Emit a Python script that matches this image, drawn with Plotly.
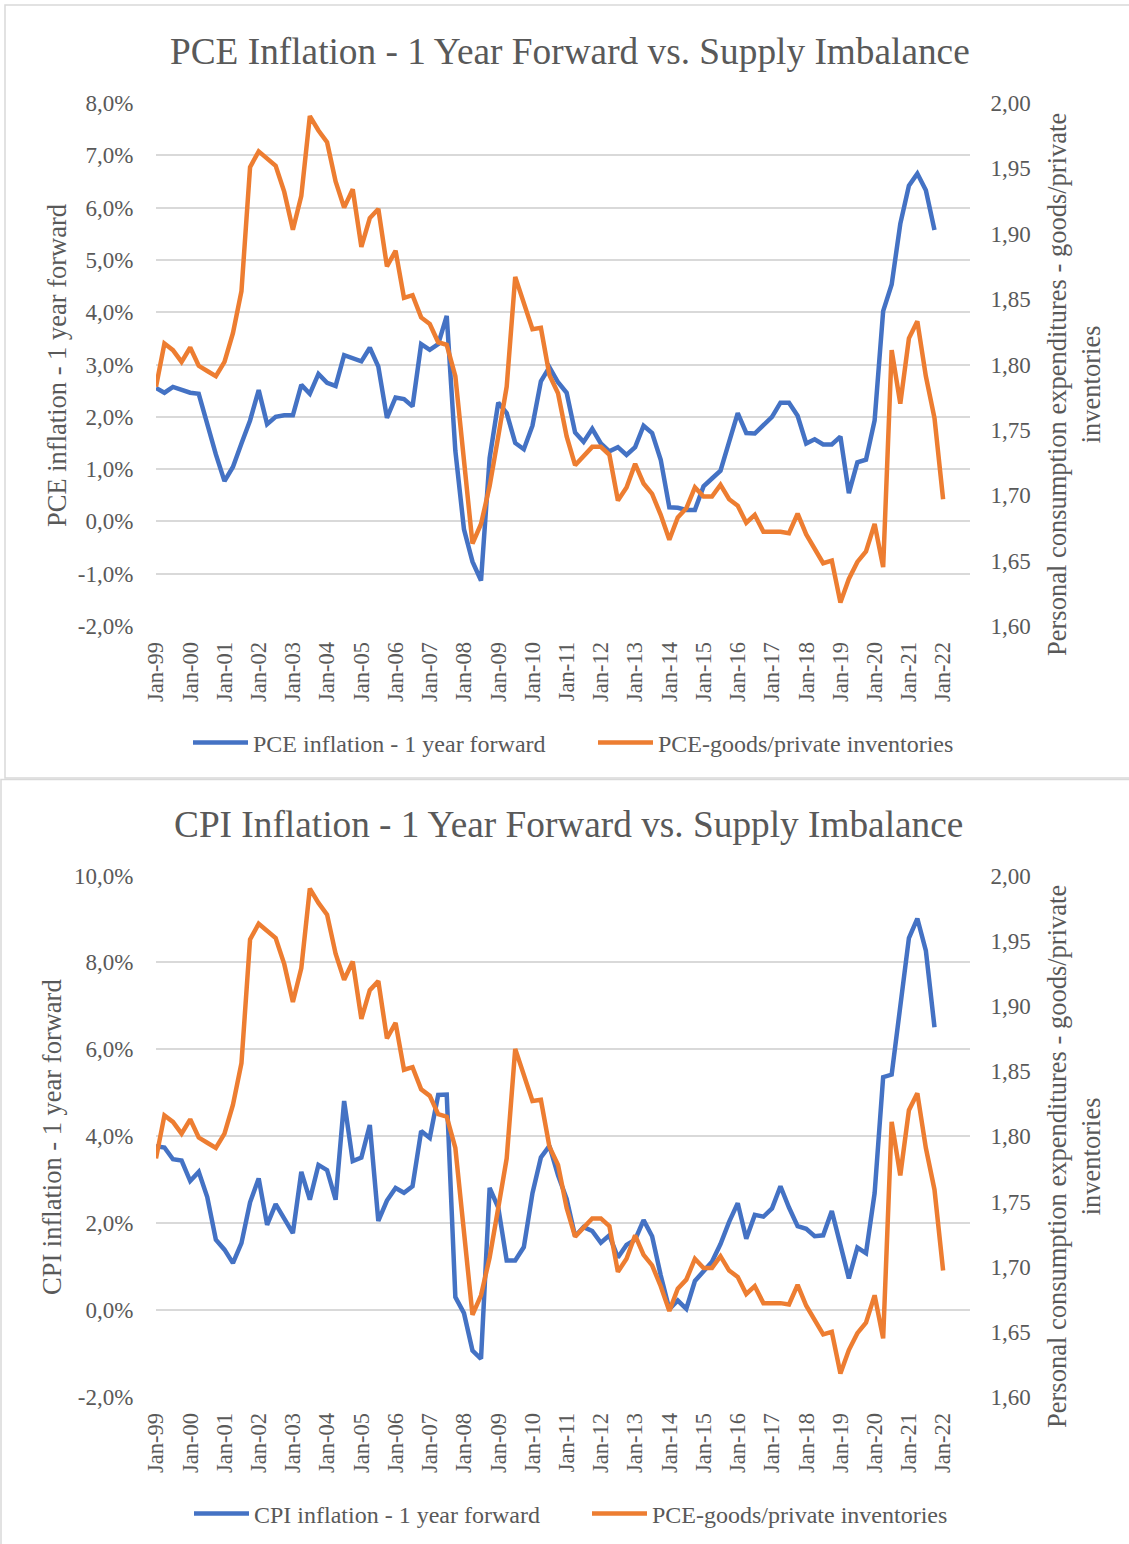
import pandas as pd
import plotly.graph_objects as go

# ---------------- data (quarterly, Jan-99 ... ) ----------------
quarters = pd.date_range("1999-01-01", periods=93, freq="QS")

pce_goods_inventories = [
    1.783, 1.816, 1.811, 1.802, 1.813, 1.799, 1.795, 1.791, 1.802, 1.824,
    1.856, 1.951, 1.963, 1.958, 1.952, 1.932, 1.903, 1.929, 1.990, 1.979,
    1.970, 1.940, 1.920, 1.934, 1.890, 1.912, 1.919, 1.875, 1.887, 1.851,
    1.853, 1.836, 1.831, 1.817, 1.815, 1.791, 1.723, 1.663, 1.678, 1.707,
    1.745, 1.783, 1.867, 1.846, 1.827, 1.828, 1.792, 1.778, 1.745, 1.723,
    1.730, 1.737, 1.737, 1.731, 1.696, 1.706, 1.724, 1.709, 1.701, 1.685,
    1.666, 1.683, 1.690, 1.706, 1.699, 1.699, 1.708, 1.697, 1.692, 1.679,
    1.685, 1.672, 1.672, 1.672, 1.671, 1.686, 1.670, 1.659, 1.648, 1.650,
    1.618, 1.636, 1.649, 1.657, 1.678, 1.645, 1.811, 1.770, 1.820, 1.833,
    1.791, 1.759, 1.697,
]

pce_inflation_fwd = [
    2.55, 2.46, 2.57, 2.52, 2.46, 2.44, 1.83, 1.28, 0.77, 1.04,
    1.49, 1.93, 2.51, 1.86, 2.00, 2.03, 2.03, 2.61, 2.44, 2.82,
    2.65, 2.59, 3.18, 3.13, 3.06, 3.32, 2.96, 1.98, 2.37, 2.34,
    2.20, 3.39, 3.28, 3.39, 3.93, 1.35, -0.15, -0.77, -1.13, 1.21,
    2.27, 2.07, 1.50, 1.38, 1.83, 2.68, 2.95, 2.66, 2.46, 1.70,
    1.52, 1.77, 1.49, 1.34, 1.42, 1.27, 1.42, 1.83, 1.69, 1.18,
    0.27, 0.26, 0.22, 0.22, 0.67, 0.82, 0.97, 1.52, 2.07, 1.69,
    1.68, 1.84, 2.00, 2.27, 2.27, 2.02, 1.49, 1.57, 1.47, 1.47,
    1.62, 0.54, 1.13, 1.18, 1.93, 4.02, 4.53, 5.69, 6.42, 6.65,
    6.33, 5.57,
]

cpi_inflation_fwd = [
    3.77, 3.74, 3.47, 3.44, 2.97, 3.18, 2.60, 1.62, 1.39, 1.08,
    1.54, 2.48, 3.03, 1.96, 2.44, 2.09, 1.77, 3.18, 2.54, 3.34,
    3.22, 2.54, 4.81, 3.43, 3.51, 4.26, 2.05, 2.52, 2.81, 2.70,
    2.85, 4.12, 3.96, 4.95, 4.96, 0.30, -0.07, -0.93, -1.12, 2.81,
    2.36, 1.14, 1.14, 1.45, 2.69, 3.51, 3.78, 3.10, 2.56, 1.70,
    1.91, 1.82, 1.55, 1.72, 1.21, 1.50, 1.62, 2.07, 1.70, 0.80,
    0.02, 0.22, 0.03, 0.67, 0.88, 1.11, 1.52, 2.03, 2.46, 1.64,
    2.19, 2.15, 2.34, 2.85, 2.36, 1.93, 1.87, 1.70, 1.72, 2.28,
    1.50, 0.73, 1.44, 1.31, 2.69, 5.36, 5.42, 7.00, 8.56, 9.01,
    8.27, 6.51,
]

pce_ticks = [-2, -1, 0, 1, 2, 3, 4, 5, 6, 7, 8]
cpi_ticks = [-2, 0, 2, 4, 6, 8, 10]
ratio_ticks = [1.60, 1.65, 1.70, 1.75, 1.80, 1.85, 1.90, 1.95, 2.00]

titles = ["PCE Inflation - 1 Year Forward vs. Supply Imbalance",
          "CPI Inflation - 1 Year Forward vs. Supply Imbalance"]
left_titles = ["PCE inflation - 1 year forward", "CPI inflation - 1 year forward"]
right_title = "Personal consumption expenditures - goods/private<br>inventories"
ratio_name = "PCE-goods/private inventories"

# ---------------- styling ----------------
W, H = 1129, 1544
BLUE = "#4472C4"
ORANGE = "#ED7D31"
TXT = "#595959"
GRID = "#D9D9D9"
FONT = "Liberation Serif"


def px(x):
    return x / W


def py(y):
    return 1 - y / H


def pct_labels(vals):
    return [f"{v:.1f}".replace(".", ",") + "%" for v in vals]


def ratio_labels(vals):
    return [f"{v:.2f}".replace(".", ",") for v in vals]


fig = go.Figure()

LW = 4.5
fig.add_trace(go.Scatter(x=quarters[:len(pce_inflation_fwd)], y=pce_inflation_fwd,
                         name=left_titles[0], mode="lines",
                         line=dict(color=BLUE, width=LW),
                         xaxis="x", yaxis="y", legend="legend"))
fig.add_trace(go.Scatter(x=quarters, y=pce_goods_inventories, name=ratio_name, mode="lines",
                         line=dict(color=ORANGE, width=LW),
                         xaxis="x", yaxis="y2", legend="legend"))
fig.add_trace(go.Scatter(x=quarters[:len(cpi_inflation_fwd)], y=cpi_inflation_fwd,
                         name=left_titles[1], mode="lines",
                         line=dict(color=BLUE, width=LW),
                         xaxis="x2", yaxis="y3", legend="legend2"))
fig.add_trace(go.Scatter(x=quarters, y=pce_goods_inventories, name=ratio_name, mode="lines",
                         line=dict(color=ORANGE, width=LW),
                         xaxis="x2", yaxis="y4", legend="legend2"))

xdom = [px(156), px(970)]
xcommon = dict(type="date", range=["1999-01-01", "2022-10-15"], tick0="1999-01-01",
               dtick="M12", tickformat="%b-%y", tickangle=-90, showgrid=False,
               showline=False, zeroline=False, ticks="outside", ticklen=6,
               tickcolor="rgba(0,0,0,0)", tickfont=dict(size=22.5, color=TXT, family=FONT),
               automargin=False, fixedrange=True)
yleft = dict(showgrid=True, gridcolor=GRID, gridwidth=1.5, zeroline=False, showline=False,
             ticks="outside", ticklen=17, tickmode="array",
             tickcolor="rgba(0,0,0,0)", tickfont=dict(size=23, color=TXT, family=FONT),
             automargin=False)
yright = dict(showgrid=False, zeroline=False, showline=False, tickmode="array",
              tickvals=ratio_ticks, ticktext=ratio_labels(ratio_ticks),
              ticks="outside", ticklen=15, tickcolor="rgba(0,0,0,0)",
              tickfont=dict(size=23, color=TXT, family=FONT), automargin=False,
              side="right", range=[1.60, 2.00])

fig.update_layout(
    width=W, height=H,
    margin=dict(l=0, r=0, t=0, b=0),
    paper_bgcolor="white", plot_bgcolor="white",
    separators=",.",
    font=dict(family=FONT, color=TXT),
    xaxis=dict(domain=xdom, anchor="y", **xcommon),
    yaxis=dict(domain=[py(626), py(103)], anchor="x", range=[-2, 8],
               tickvals=pce_ticks, ticktext=pct_labels(pce_ticks), **yleft),
    yaxis2=dict(overlaying="y", anchor="x", **yright),
    xaxis2=dict(domain=xdom, anchor="y3", **xcommon),
    yaxis3=dict(domain=[py(1397), py(875.5)], anchor="x2", range=[-2, 10],
                tickvals=cpi_ticks, ticktext=pct_labels(cpi_ticks), **yleft),
    yaxis4=dict(overlaying="y3", anchor="x2", **yright),
    legend=dict(orientation="h", x=px(188), y=py(743), xanchor="left", yanchor="middle",
                font=dict(size=24, color=TXT, family=FONT), bgcolor="rgba(0,0,0,0)",
                entrywidth=335, entrywidthmode="pixels", itemwidth=55),
    legend2=dict(orientation="h", x=px(189), y=py(1514), xanchor="left", yanchor="middle",
                 font=dict(size=24, color=TXT, family=FONT), bgcolor="rgba(0,0,0,0)",
                 entrywidth=328, entrywidthmode="pixels", itemwidth=55),
    showlegend=True,
)

# chart frames
fig.add_shape(type="rect", xref="paper", yref="paper", x0=px(5), x1=1.02, y0=py(778), y1=py(5),
              line=dict(color=GRID, width=1.5), layer="below")
fig.add_shape(type="rect", xref="paper", yref="paper", x0=px(1), x1=1.02, y0=-0.02, y1=py(779.5),
              line=dict(color=GRID, width=1.5), layer="below")

# titles
fig.add_annotation(text=titles[0], x=px(570), y=py(51), xref="paper", yref="paper",
                   showarrow=False, xanchor="center", yanchor="middle",
                   font=dict(size=37.3, color=TXT, family=FONT))
fig.add_annotation(text=titles[1], x=px(568), y=py(824), xref="paper", yref="paper",
                   showarrow=False, xanchor="center", yanchor="middle",
                   font=dict(size=37.3, color=TXT, family=FONT))

# axis titles
for txt, xx, yy in [(left_titles[0], 57, 366), (left_titles[1], 52, 1137)]:
    fig.add_annotation(text=txt, x=px(xx), y=py(yy), xref="paper", yref="paper",
                       showarrow=False, textangle=-90, xanchor="center", yanchor="middle",
                       font=dict(size=26.5, color=TXT, family=FONT))
for yy in [385, 1157]:
    fig.add_annotation(text=right_title, x=px(1074), y=py(yy), xref="paper", yref="paper",
                       showarrow=False, textangle=-90, xanchor="center", yanchor="middle",
                       font=dict(size=26.5, color=TXT, family=FONT))

fig.write_html("out.html", config={"displayModeBar": False},
               post_script="document.body.style.margin='0px';")
